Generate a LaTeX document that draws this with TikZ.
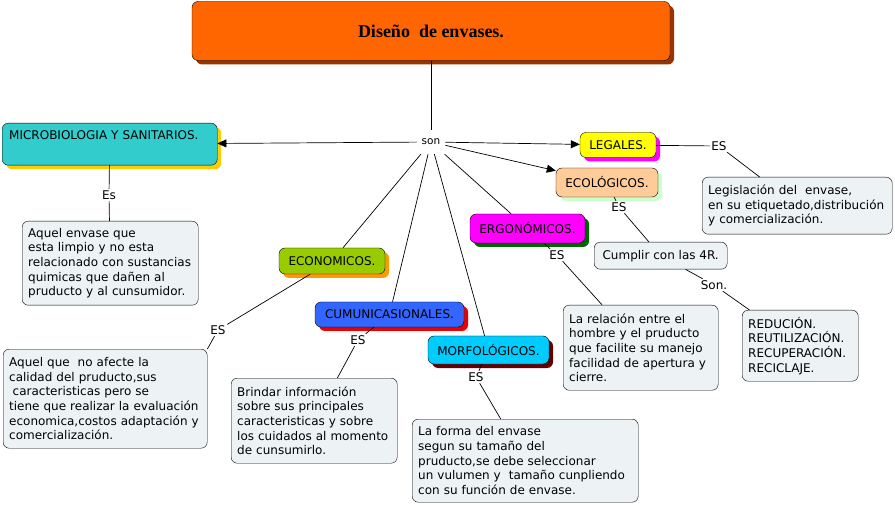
\documentclass[tikz,border=0pt]{standalone}
\usepackage{fontspec}
\setmainfont{DejaVu Sans}
\newfontfamily\titlefont{Liberation Serif}
\usetikzlibrary{arrows.meta,shadows}

\definecolor{infofill}{RGB}{237,243,245}
\definecolor{titleorange}{RGB}{255,102,0}
\definecolor{titleshade}{RGB}{153,51,0}
\definecolor{microfill}{RGB}{51,204,204}
\definecolor{microshade}{RGB}{255,204,0}
\definecolor{econfill}{RGB}{153,204,0}
\definecolor{econshade}{RGB}{255,153,0}
\definecolor{comufill}{RGB}{51,102,255}
\definecolor{comushade}{RGB}{235,0,0}
\definecolor{morffill}{RGB}{0,204,255}
\definecolor{morfshade}{RGB}{102,0,0}
\definecolor{ergofill}{RGB}{255,0,255}
\definecolor{ergoshade}{RGB}{0,102,0}
\definecolor{legalfill}{RGB}{255,255,0}
\definecolor{legalshade}{RGB}{255,0,255}
\definecolor{ecolfill}{RGB}{255,204,153}
\definecolor{ecolshade}{RGB}{204,255,204}

\begin{document}
\begin{tikzpicture}[x=1pt,y=-1pt,
  concept/.style 2 args={draw, rounded corners=6pt, fill=#1, inner sep=2pt,
    general shadow={fill=#2, shadow xshift=4pt, shadow yshift=-4pt},
    font=\fontsize{12}{14.7}\selectfont},
  info/.style={draw, rounded corners=6pt, fill=infofill, anchor=north west,
    align=left, inner xsep=6pt, font=\fontsize{12}{14.7}\selectfont},
  linkword/.style={inner sep=1.5pt, font=\fontsize{12}{12}\selectfont},
  conn/.style={line width=0.7pt},
  tip/.style={-{Triangle[length=9pt,width=8pt]}}]
\useasboundingbox (0,0) rectangle (895,505);

% main concept
\node [concept={titleorange}{titleshade}, minimum width=478pt, minimum height=59pt,
  font=\titlefont\fontsize{18}{20}\selectfont\bfseries] (title) at (431,31) {Diseño\ \ de envases.};
\node [linkword, inner xsep=5pt, inner ysep=9pt, font=\fontsize{10.5}{12}\selectfont] (son) at (431,142) {son};

% first level
\node [concept={microfill}{microshade}, anchor=north west, minimum width=215pt,
  minimum height=42pt, text width=201pt, align=left, inner xsep=7pt] (micro) at (2,123)
  {MICROBIOLOGIA Y SANITARIOS.\\\strut};
\node [concept={econfill}{econshade}, minimum width=106pt, minimum height=26pt] (econ) at (332,261) {ECONOMICOS.};
\node [concept={comufill}{comushade}, minimum width=149pt, minimum height=25pt] (comu) at (389.5,314.5) {CUMUNICASIONALES.};
\node [concept={morffill}{morfshade}, minimum width=121pt, minimum height=28pt] (morf) at (488.5,350) {MORFOLÓGICOS.};
\node [concept={ergofill}{ergoshade}, minimum width=115pt, minimum height=29pt] (ergo) at (527.5,228.5) {ERGONÓMICOS.};
\node [concept={legalfill}{legalshade}, minimum width=76pt, minimum height=25pt] (legal) at (618,145) {LEGALES.};
\node [concept={ecolfill}{ecolshade}, minimum width=102pt, minimum height=29pt] (ecol) at (607,182.5) {ECOLÓGICOS.};

% linking words
\node [linkword] (esmicro) at (109,195) {Es};
\node [linkword] (esecon) at (218,330) {ES};
\node [linkword] (escomu) at (358,340) {ES};
\node [linkword] (esmorf) at (476,377) {ES};
\node [linkword] (esergo) at (557,255) {ES};
\node [linkword] (eslegal) at (719,146) {ES};
\node [linkword] (esecol) at (619,207) {ES};
\node [linkword] (sonr) at (714,285) {Son.};

% descriptions
\node [info, text width=164pt, minimum width=176pt, minimum height=84pt] (dmicro) at (22,221)
  {Aquel envase que\\esta limpio y no esta\\relacionado con sustancias\\quimicas que dañen al\\pruducto y al cunsumidor.};
\node [info, text width=192pt, minimum width=204pt, minimum height=99pt] (decon) at (3,349)
  {Aquel que\ \ no afecte la\\calidad del pruducto,sus\\\hspace*{3.5pt}caracteristicas pero se\\tiene que realizar la evaluación\\economica,costos adaptación y\\comercialización.};
\node [info, text width=154pt, minimum width=166pt, minimum height=85pt] (dcomu) at (231,378)
  {Brindar información\\sobre sus principales\\caracteristicas y sobre\\los cuidados al momento\\de cunsumirlo.};
\node [info, text width=214pt, minimum width=226pt, minimum height=83pt] (dmorf) at (412,419)
  {La forma del envase\\segun su tamaño del\\pruducto,se debe seleccionar\\un vulumen y\ \ tamaño cunpliendo\\con su función de envase.};
\node [info, text width=143pt, minimum width=155pt, minimum height=85pt] (dergo) at (563,305)
  {La relación entre el\\hombre y el pruducto\\que facilite su manejo\\facilidad de apertura y\\cierre.};
\node [info, text width=178pt, minimum width=190pt, minimum height=57pt] (dlegal) at (702,177)
  {Legislación del\ \ envase,\\en su etiquetado,distribución\\y comercialización.};
\node [info, minimum width=133pt, minimum height=27pt] (decol) at (594,242) {Cumplir con las 4R.};
\node [info, text width=104pt, minimum width=116pt, minimum height=71pt] (derre) at (742,310)
  {REDUCIÓN.\\REUTILIZACIÓN.\\RECUPERACIÓN.\\RECICLAJE.};

% connectors
\draw [conn] (title) -- (son);
\draw [conn, tip] (son) -- (micro);
\draw [conn, tip] (son) -- (legal);
\draw [conn, tip] (son) -- (ecol);
\draw [conn] (son) -- (econ);
\draw [conn] (son) -- (comu);
\draw [conn] (son) -- (morf);
\draw [conn] (son) -- (ergo);

\draw [conn] (micro) -- (esmicro);
\draw [conn] (esmicro) -- (dmicro);
\draw [conn] (econ) -- (esecon);
\draw [conn] (esecon) -- (decon.north east);
\draw [conn] (comu) -- (escomu);
\draw [conn] (escomu) -- (dcomu);
\draw [conn] (morf) -- (esmorf);
\draw [conn] (esmorf) -- (dmorf);
\draw [conn] (ergo) -- (esergo);
\draw [conn] (esergo) -- (dergo);
\draw [conn] (legal) -- (eslegal);
\draw [conn] (eslegal) -- (dlegal);
\draw [conn] (ecol) -- (esecol);
\draw [conn] (esecol) -- (decol);
\draw [conn] (decol) -- (sonr);
\draw [conn] (sonr) -- (derre);

\end{tikzpicture}
\end{document}
